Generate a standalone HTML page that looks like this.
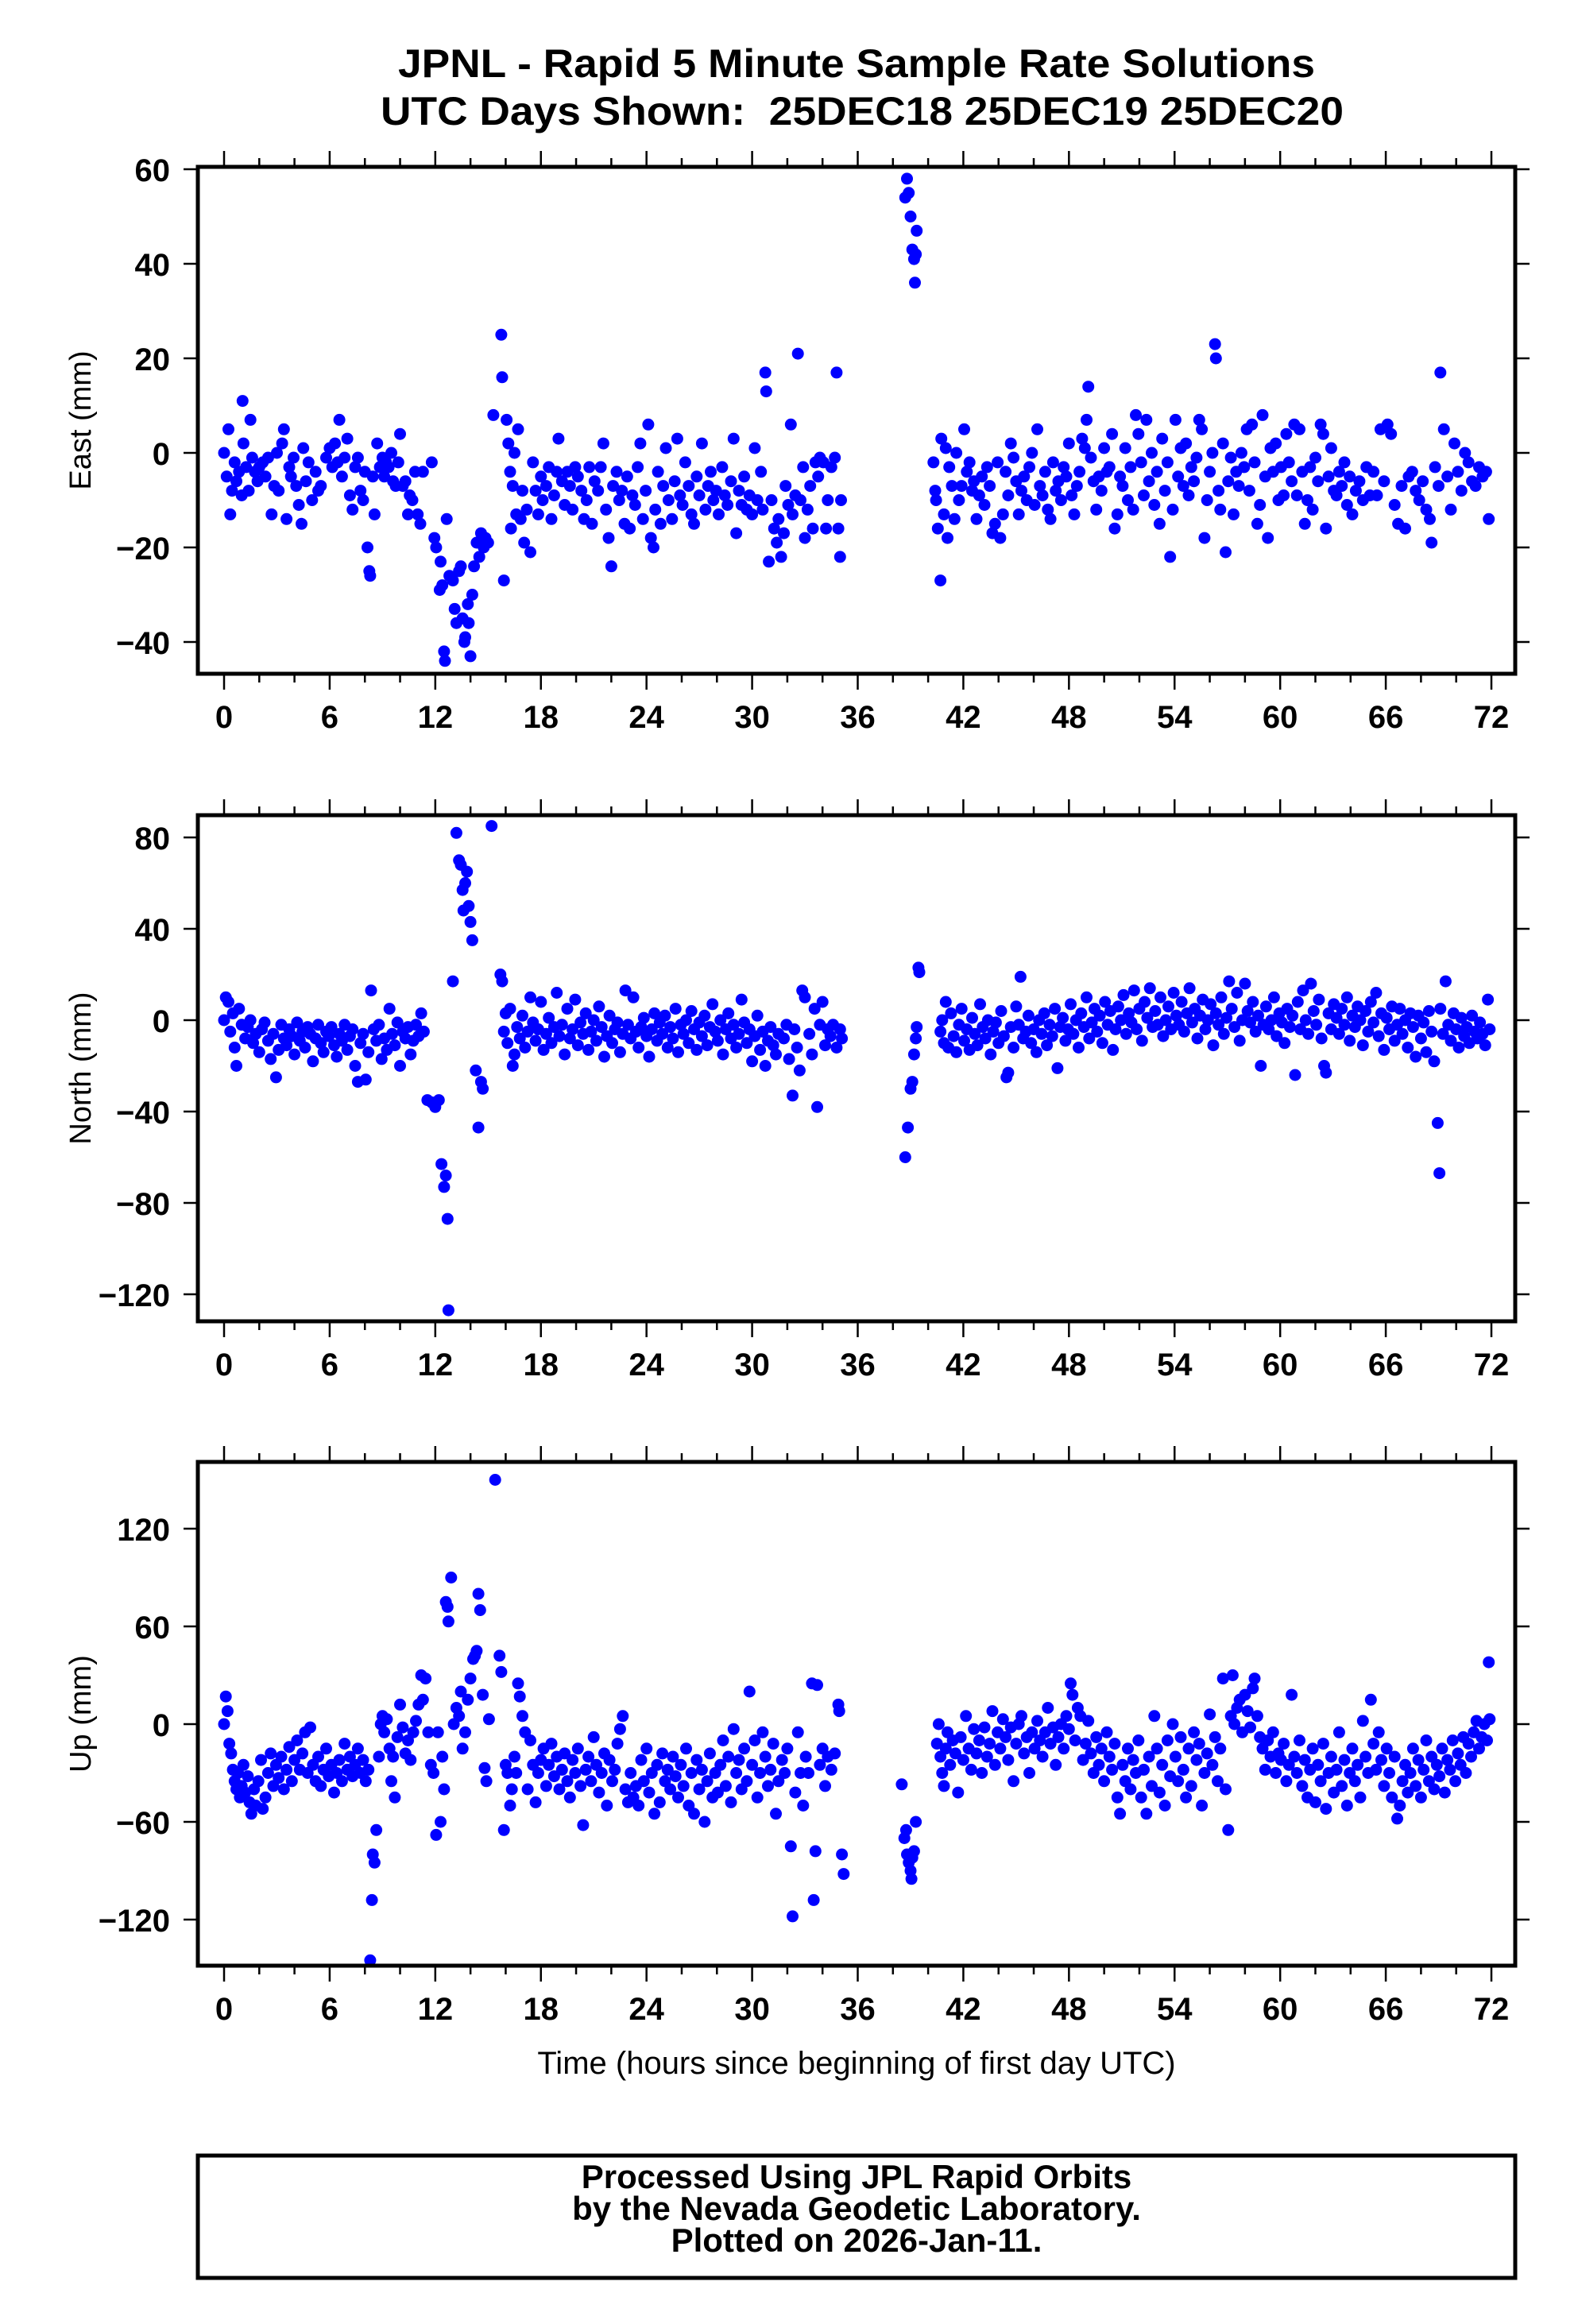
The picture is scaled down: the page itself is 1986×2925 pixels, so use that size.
<!DOCTYPE html>
<html><head><meta charset="utf-8"><style>
html,body{margin:0;padding:0;background:#fff;}
svg{display:block;font-family:"Liberation Sans",Arial,sans-serif;}
</style></head><body>
<svg id="chart" xmlns="http://www.w3.org/2000/svg" width="1986" height="2925" viewBox="0 0 1986 2925">
<rect x="0" y="0" width="1986" height="2925" fill="#fff"/>
<text x="1078" y="97" text-anchor="middle" font-size="50" font-weight="bold" textLength="1154" lengthAdjust="spacingAndGlyphs">JPNL - Rapid 5 Minute Sample Rate Solutions</text>
<text x="1085" y="157" text-anchor="middle" font-size="50" font-weight="bold" textLength="1212" lengthAdjust="spacingAndGlyphs">UTC Days Shown: &#160;25DEC18 25DEC19 25DEC20</text>
<g id="panels"></g>
<text x="1078" y="2610" text-anchor="middle" font-size="40">Time (hours since beginning of first day UTC)</text>
<rect x="249" y="2713" width="1658" height="154" fill="none" stroke="#000" stroke-width="5"/>
<text x="1078" y="2754" text-anchor="middle" font-size="42" font-weight="bold">Processed Using JPL Rapid Orbits</text>
<text x="1078" y="2794" text-anchor="middle" font-size="42" font-weight="bold">by the Nevada Geodetic Laboratory.</text>
<text x="1078" y="2834" text-anchor="middle" font-size="42" font-weight="bold">Plotted on 2026-Jan-11.</text>
</svg>
<script>
const xTicks = [0,6,12,18,24,30,36,42,48,54,60,66,72];
const xMinorTicks = [2,4,8,10,14,16,20,22,26,28,32,34,38,40,44,46,50,52,56,58,62,64,68,70];
const eastTicks = [-40,-20,0,20,40,60];
const northTicks = [-120,-80,-40,0,40,80];
const upTicks = [-120,-60,0,60,120];

const eastData = [[0,0],[0.15,-5],[0.25,5],[0.35,-13],[0.45,-8],[0.6,-2],[0.7,-6],[0.85,-4],[1.0,-9],[1.05,11],[1.1,2],[1.25,-3],[1.4,-8],[1.5,7],[1.6,-1],[1.75,-4],[1.9,-6],[2.0,-3],[2.2,-2],[2.35,-5],[2.5,-1],[2.7,-13],[2.85,-7],[3.0,0],[3.1,-8],[3.3,2],[3.4,5],[3.55,-14],[3.7,-3],[3.8,-5],[3.95,-1],[4.1,-7],[4.25,-11],[4.4,-15],[4.5,1],[4.65,-6],[4.8,-2],[5.0,-10],[5.2,-4],[5.35,-8],[5.5,-7],[5.8,-1],[6.0,1],[6.15,-3],[6.3,2],[6.45,-2],[6.55,7],[6.7,-5],[6.85,-1],[7.0,3],[7.15,-9],[7.3,-12],[7.45,-3],[7.6,-1],[7.75,-8],[7.9,-10],[8.0,-4],[8.15,-20],[8.25,-25],[8.3,-26],[8.45,-5],[8.55,-13],[8.7,2],[8.85,-3],[9.0,-1],[9.1,-5],[9.2,-2],[9.35,-3],[9.5,0],[9.6,-6],[9.75,-7],[9.9,-2],[10.0,4],[10.15,-7],[10.3,-6],[10.45,-13],[10.55,-9],[10.7,-10],[10.85,-4],[11.0,-13],[11.15,-15],[11.3,-4],[11.8,-2],[11.95,-18],[12.05,-20],[12.25,-29],[12.3,-23],[12.4,-28],[12.5,-42],[12.55,-44],[12.65,-14],[12.8,-26],[13.0,-27],[13.1,-33],[13.2,-36],[13.35,-25],[13.45,-24],[13.55,-35],[13.65,-40],[13.7,-39],[13.85,-32],[13.9,-36],[14.0,-43],[14.1,-30],[14.2,-24],[14.35,-19],[14.5,-22],[14.6,-17],[14.75,-20],[14.85,-18],[15.0,-19],[15.3,8],[15.75,25],[15.8,16],[15.9,-27],[16.05,7],[16.15,2],[16.25,-4],[16.3,-16],[16.4,-7],[16.5,0],[16.6,-13],[16.7,5],[16.85,-14],[16.95,-8],[17.05,-19],[17.2,-12],[17.4,-21],[17.55,-2],[17.7,-8],[17.85,-13],[18.0,-5],[18.1,-10],[18.3,-7],[18.45,-3],[18.6,-14],[18.75,-9],[18.9,-4],[19.0,3],[19.2,-6],[19.35,-11],[19.5,-4],[19.65,-7],[19.8,-12],[19.95,-3],[20.1,-5],[20.3,-8],[20.45,-14],[20.6,-10],[20.75,-3],[20.9,-15],[21.05,-6],[21.25,-8],[21.4,-3],[21.55,2],[21.7,-12],[21.85,-18],[22.0,-24],[22.1,-7],[22.3,-4],[22.45,-10],[22.6,-8],[22.75,-15],[22.9,-5],[23.05,-16],[23.2,-9],[23.35,-11],[23.5,-3],[23.65,2],[23.8,-14],[23.95,-8],[24.1,6],[24.25,-18],[24.4,-20],[24.5,-12],[24.65,-4],[24.8,-15],[24.95,-7],[25.1,1],[25.25,-10],[25.45,-14],[25.6,-6],[25.75,3],[25.9,-9],[26.05,-11],[26.2,-2],[26.4,-7],[26.55,-13],[26.7,-15],[26.85,-5],[27.0,-9],[27.15,2],[27.35,-12],[27.5,-7],[27.65,-4],[27.8,-10],[27.95,-8],[28.1,-13],[28.3,-3],[28.45,-9],[28.6,-11],[28.8,-6],[28.95,3],[29.1,-17],[29.25,-8],[29.4,-11],[29.55,-5],[29.7,-12],[29.85,-9],[30.0,-13],[30.15,1],[30.3,-10],[30.5,-4],[30.6,-12],[30.75,17],[30.8,13],[30.95,-23],[31.1,-10],[31.25,-16],[31.4,-19],[31.5,-14],[31.65,-22],[31.8,-17],[31.9,-7],[32.05,-11],[32.2,6],[32.3,-13],[32.45,-9],[32.6,21],[32.75,-10],[32.9,-3],[33.0,-18],[33.15,-12],[33.3,-7],[33.45,-16],[33.6,-2],[33.75,-5],[33.85,-1],[34.05,-2],[34.2,-16],[34.3,-10],[34.5,-3],[34.7,-1],[34.8,17],[34.9,-16],[35.0,-22],[35.05,-10],[38.7,54],[38.8,58],[38.9,55],[39.0,50],[39.1,43],[39.2,41],[39.25,36],[39.3,42],[39.35,47],[40.3,-2],[40.4,-8],[40.45,-10],[40.55,-16],[40.7,-27],[40.75,3],[40.9,-13],[41.0,1],[41.1,-18],[41.2,-3],[41.35,-7],[41.5,-14],[41.6,0],[41.75,-10],[41.9,-7],[42.05,5],[42.2,-4],[42.35,-2],[42.5,-8],[42.6,-6],[42.75,-14],[42.9,-9],[43.05,-5],[43.2,-11],[43.35,-3],[43.5,-7],[43.65,-17],[43.8,-15],[43.95,-2],[44.1,-18],[44.25,-13],[44.4,-4],[44.55,-9],[44.7,2],[44.85,-1],[45.0,-6],[45.15,-13],[45.3,-8],[45.45,-5],[45.6,-10],[45.75,-3],[45.9,0],[46.05,-11],[46.2,5],[46.35,-7],[46.5,-9],[46.65,-4],[46.8,-12],[46.95,-14],[47.1,-2],[47.25,-8],[47.4,-6],[47.55,-10],[47.7,-3],[47.85,-5],[48.0,2],[48.15,-9],[48.3,-13],[48.45,-7],[48.6,-4],[48.75,3],[48.9,1],[49.0,7],[49.1,14],[49.25,-1],[49.4,-6],[49.55,-12],[49.7,-5],[49.85,-8],[50.0,1],[50.15,-4],[50.3,-3],[50.45,4],[50.6,-16],[50.75,-13],[50.9,-5],[51.05,-7],[51.2,1],[51.35,-10],[51.5,-3],[51.65,-12],[51.8,8],[51.95,4],[52.1,-2],[52.25,-9],[52.4,7],[52.55,-6],[52.7,0],[52.85,-11],[53.0,-4],[53.15,-15],[53.3,3],[53.45,-8],[53.6,-2],[53.75,-22],[53.9,-12],[54.05,7],[54.2,-5],[54.35,1],[54.5,-7],[54.65,2],[54.8,-9],[54.95,-3],[55.1,-6],[55.25,-1],[55.4,7],[55.55,5],[55.7,-18],[55.85,-10],[56.0,-4],[56.15,0],[56.3,23],[56.35,20],[56.5,-8],[56.6,-12],[56.75,2],[56.9,-21],[57.05,-6],[57.2,-1],[57.35,-13],[57.5,-4],[57.65,-7],[57.8,0],[57.95,-3],[58.1,5],[58.25,-8],[58.4,6],[58.55,-2],[58.7,-15],[58.85,-11],[59.0,8],[59.15,-5],[59.3,-18],[59.45,1],[59.6,-4],[59.75,2],[59.9,-10],[60.05,-3],[60.2,-9],[60.35,4],[60.5,-2],[60.65,-6],[60.8,6],[60.95,-9],[61.1,5],[61.25,-4],[61.4,-15],[61.55,-10],[61.7,-3],[61.85,-12],[62.0,-1],[62.15,-6],[62.3,6],[62.45,4],[62.6,-16],[62.75,-5],[62.9,1],[63.05,-8],[63.2,-9],[63.35,-4],[63.5,-7],[63.65,-2],[63.8,-11],[63.95,-5],[64.1,-13],[64.3,-8],[64.5,-6],[64.7,-10],[64.9,-3],[65.1,-9],[65.3,-4],[65.5,-9],[65.7,5],[65.9,-6],[66.1,6],[66.3,4],[66.5,-11],[66.7,-15],[66.9,-7],[67.1,-16],[67.3,-5],[67.5,-4],[67.7,-8],[67.9,-10],[68.1,-6],[68.3,-12],[68.5,-14],[68.6,-19],[68.8,-3],[69.0,-7],[69.1,17],[69.3,5],[69.5,-5],[69.7,-12],[69.9,2],[70.1,-4],[70.3,-8],[70.5,0],[70.7,-2],[70.9,-6],[71.1,-7],[71.3,-3],[71.5,-5],[71.7,-4],[71.85,-14]];

const northData = [[0,0],[0.1,10],[0.25,8],[0.35,-5],[0.5,3],[0.6,-12],[0.7,-20],[0.85,5],[1.0,-2],[1.2,-8],[1.35,-3],[1.5,0],[1.65,-10],[1.8,-6],[2.0,-14],[2.15,-4],[2.3,-1],[2.5,-9],[2.65,-17],[2.8,-6],[2.95,-25],[3.1,-13],[3.25,-2],[3.4,-8],[3.55,-11],[3.7,-4],[3.85,-7],[4.0,-15],[4.15,-1],[4.3,-9],[4.45,-5],[4.6,-12],[4.75,-3],[4.9,-6],[5.05,-18],[5.2,-8],[5.35,-2],[5.5,-10],[5.65,-14],[5.8,-5],[5.95,-7],[6.1,-3],[6.25,-11],[6.4,-16],[6.55,-6],[6.7,-9],[6.85,-2],[7.0,-13],[7.15,-7],[7.3,-4],[7.45,-20],[7.6,-27],[7.75,-10],[7.9,-6],[8.05,-26],[8.2,-14],[8.35,13],[8.5,-4],[8.65,-9],[8.8,-2],[8.95,-17],[9.1,-8],[9.25,-13],[9.4,5],[9.55,-6],[9.7,-11],[9.85,-1],[10.0,-20],[10.15,-5],[10.3,-8],[10.45,-3],[10.6,-15],[10.75,-9],[10.9,-2],[11.05,-7],[11.2,3],[11.35,-5],[11.55,-35],[11.8,-36],[12.0,-38],[12.2,-35],[12.35,-63],[12.5,-73],[12.6,-68],[12.7,-87],[12.75,-127],[13.0,17],[13.2,82],[13.35,70],[13.45,68],[13.55,57],[13.6,48],[13.7,60],[13.8,65],[13.9,50],[14.0,43],[14.1,35],[14.3,-22],[14.45,-47],[14.6,-27],[14.7,-30],[15.2,85],[15.7,20],[15.8,17],[15.9,-5],[16.0,3],[16.1,-10],[16.25,5],[16.4,-20],[16.5,-15],[16.65,-3],[16.8,-8],[16.95,2],[17.1,-12],[17.25,-5],[17.4,10],[17.55,-1],[17.7,-9],[17.85,-4],[18.0,8],[18.15,-13],[18.3,-6],[18.45,1],[18.6,-10],[18.75,-3],[18.9,12],[19.05,-7],[19.2,-2],[19.35,-15],[19.5,5],[19.65,-8],[19.8,-4],[19.95,9],[20.1,-11],[20.25,-1],[20.4,-6],[20.55,3],[20.7,-13],[20.85,-5],[21.0,0],[21.15,-9],[21.3,6],[21.45,-3],[21.6,-16],[21.75,-7],[21.9,2],[22.05,-10],[22.2,-4],[22.35,-1],[22.5,-14],[22.65,-6],[22.8,13],[22.95,-2],[23.1,-8],[23.25,10],[23.4,-5],[23.55,-12],[23.7,-3],[23.85,1],[24.0,-7],[24.15,-16],[24.3,-4],[24.45,3],[24.6,-9],[24.75,-1],[24.9,-6],[25.05,2],[25.2,-12],[25.35,-3],[25.5,-8],[25.65,5],[25.8,-14],[25.95,-2],[26.1,-6],[26.25,0],[26.4,-10],[26.55,4],[26.7,-4],[26.85,-13],[27.0,-1],[27.15,-7],[27.3,2],[27.45,-11],[27.6,-3],[27.75,7],[27.9,-5],[28.05,-9],[28.2,0],[28.35,-15],[28.5,-4],[28.65,3],[28.8,-8],[28.95,-2],[29.1,-12],[29.25,-6],[29.4,9],[29.55,-1],[29.7,-10],[29.85,-4],[30.0,-18],[30.15,-7],[30.3,2],[30.45,-13],[30.6,-5],[30.75,-20],[30.9,-9],[31.05,-3],[31.2,-11],[31.35,-15],[31.5,-6],[31.8,-8],[31.95,-2],[32.1,-17],[32.3,-33],[32.4,-4],[32.55,-12],[32.7,-22],[32.85,13],[33.0,10],[33.25,-6],[33.4,-15],[33.55,5],[33.7,-38],[33.85,-2],[34.0,8],[34.15,-11],[34.3,-4],[34.45,-7],[34.6,-2],[34.8,-12],[35.0,-4],[35.1,-8],[38.7,-60],[38.85,-47],[39.0,-30],[39.1,-27],[39.2,-15],[39.3,-8],[39.35,-3],[39.45,23],[39.5,21],[40.7,-5],[40.8,0],[40.9,-10],[41.0,8],[41.15,-12],[41.3,3],[41.45,-7],[41.6,-14],[41.75,-2],[41.9,5],[42.05,-9],[42.2,-4],[42.35,-13],[42.5,1],[42.65,-6],[42.8,-11],[42.95,7],[43.1,-3],[43.25,-8],[43.4,0],[43.55,-15],[43.7,-5],[43.85,-1],[44.0,-10],[44.15,4],[44.3,-7],[44.45,-25],[44.55,-23],[44.7,-3],[44.85,-12],[45.0,6],[45.15,-2],[45.25,19],[45.4,-8],[45.55,-5],[45.7,2],[45.85,-10],[46.0,-4],[46.15,-14],[46.3,0],[46.45,-6],[46.6,3],[46.75,-11],[46.9,-2],[47.05,-7],[47.2,5],[47.35,-21],[47.5,-3],[47.65,1],[47.8,-9],[47.95,-4],[48.1,7],[48.25,-6],[48.4,0],[48.55,-12],[48.7,3],[48.85,-3],[49.0,10],[49.15,-8],[49.3,-1],[49.45,5],[49.6,-5],[49.75,2],[49.9,-10],[50.05,8],[50.2,-2],[50.35,4],[50.5,-13],[50.65,-4],[50.8,6],[50.95,0],[51.1,11],[51.25,-6],[51.4,3],[51.55,-1],[51.7,13],[51.85,-4],[52.0,5],[52.15,-9],[52.3,8],[52.45,1],[52.6,14],[52.75,-3],[52.9,4],[53.05,-2],[53.2,10],[53.35,-7],[53.5,0],[53.65,6],[53.8,-4],[53.95,12],[54.1,2],[54.25,-2],[54.4,8],[54.55,-5],[54.7,3],[54.85,14],[55.0,-1],[55.15,5],[55.3,-8],[55.45,2],[55.6,9],[55.75,-4],[55.9,0],[56.05,7],[56.2,-11],[56.35,3],[56.5,-2],[56.65,10],[56.8,-6],[56.95,1],[57.1,17],[57.25,5],[57.4,-3],[57.55,12],[57.7,-9],[57.85,0],[58.0,16],[58.15,4],[58.3,-1],[58.45,8],[58.6,-5],[58.75,2],[58.9,-20],[59.05,-2],[59.2,6],[59.35,-4],[59.5,0],[59.65,10],[59.8,-7],[59.95,3],[60.1,-1],[60.25,-10],[60.4,5],[60.55,-3],[60.7,2],[60.85,-24],[61.0,8],[61.15,-4],[61.3,13],[61.45,0],[61.6,-6],[61.75,16],[61.9,4],[62.05,-2],[62.2,9],[62.35,-8],[62.5,-20],[62.6,-23],[62.75,3],[62.9,-4],[63.05,7],[63.2,1],[63.35,-6],[63.5,5],[63.65,-2],[63.8,10],[63.95,-9],[64.1,2],[64.25,-3],[64.4,6],[64.55,0],[64.7,-11],[64.85,4],[65.0,-5],[65.15,8],[65.3,-1],[65.45,12],[65.6,-7],[65.75,3],[65.9,-13],[66.05,1],[66.2,-4],[66.35,6],[66.5,-9],[66.65,-2],[66.8,5],[66.95,-6],[67.1,0],[67.25,-12],[67.4,3],[67.55,-3],[67.7,-16],[67.85,2],[68.0,-8],[68.15,-1],[68.3,-14],[68.45,4],[68.6,-5],[68.75,-18],[68.95,-45],[69.05,-67],[69.1,5],[69.25,-6],[69.4,17],[69.55,-2],[69.7,-9],[69.85,3],[70.0,-4],[70.15,-12],[70.3,1],[70.45,-7],[70.6,-3],[70.75,-10],[70.9,2],[71.05,-5],[71.2,-8],[71.35,-1],[71.5,-6],[71.65,-11],[71.8,9],[71.9,-4]];

const upData = [[0,0],[0.1,17],[0.2,8],[0.3,-12],[0.4,-18],[0.5,-28],[0.6,-35],[0.7,-40],[0.8,-30],[0.9,-45],[1.0,-38],[1.1,-25],[1.2,-42],[1.35,-32],[1.45,-48],[1.55,-55],[1.7,-40],[1.8,-50],[1.95,-35],[2.1,-22],[2.2,-52],[2.35,-45],[2.5,-30],[2.65,-18],[2.8,-38],[2.95,-25],[3.1,-33],[3.25,-20],[3.4,-40],[3.55,-28],[3.7,-14],[3.85,-35],[4.0,-22],[4.15,-10],[4.3,-28],[4.45,-18],[4.6,-5],[4.75,-30],[4.9,-2],[5.05,-25],[5.2,-35],[5.35,-20],[5.5,-38],[5.65,-28],[5.8,-15],[5.95,-32],[6.1,-25],[6.25,-42],[6.4,-30],[6.55,-22],[6.7,-35],[6.85,-12],[7.0,-28],[7.15,-20],[7.3,-32],[7.45,-25],[7.6,-15],[7.75,-30],[7.9,-22],[8.05,-35],[8.2,-28],[8.3,-145],[8.4,-108],[8.45,-80],[8.55,-85],[8.65,-65],[8.8,-20],[8.9,0],[9.0,5],[9.1,-5],[9.25,3],[9.4,-15],[9.5,-35],[9.6,-20],[9.7,-45],[9.85,-8],[10.0,12],[10.15,-2],[10.3,-18],[10.45,-10],[10.6,-22],[10.75,-5],[10.9,2],[11.05,12],[11.2,30],[11.3,15],[11.45,28],[11.6,-5],[11.75,-25],[11.9,-30],[12.05,-68],[12.15,-5],[12.3,-60],[12.4,-20],[12.5,-40],[12.6,75],[12.7,72],[12.75,63],[12.9,90],[13.05,0],[13.2,10],[13.35,5],[13.45,20],[13.55,-15],[13.7,-5],[13.85,15],[14.0,28],[14.15,40],[14.25,42],[14.35,45],[14.45,80],[14.55,70],[14.7,18],[14.8,-27],[14.9,-35],[15.05,3],[15.4,150],[15.65,42],[15.75,32],[15.9,-65],[16.0,-25],[16.1,-30],[16.25,-50],[16.35,-40],[16.5,-20],[16.6,-30],[16.7,25],[16.8,17],[16.95,5],[17.1,-5],[17.25,-40],[17.4,-10],[17.55,-25],[17.7,-48],[17.85,-30],[18.0,-22],[18.15,-15],[18.3,-38],[18.45,-25],[18.6,-12],[18.75,-32],[18.9,-20],[19.05,-40],[19.2,-28],[19.35,-18],[19.5,-35],[19.65,-45],[19.8,-22],[19.95,-30],[20.1,-15],[20.25,-38],[20.4,-62],[20.55,-28],[20.7,-20],[20.85,-35],[21.0,-8],[21.15,-25],[21.3,-42],[21.45,-30],[21.6,-18],[21.75,-50],[21.9,-22],[22.05,-35],[22.2,-28],[22.35,-12],[22.5,-3],[22.65,5],[22.8,-40],[22.95,-48],[23.1,-30],[23.25,-45],[23.4,-38],[23.55,-50],[23.7,-22],[23.85,-35],[24.0,-15],[24.15,-42],[24.3,-30],[24.45,-55],[24.6,-25],[24.75,-48],[24.9,-18],[25.05,-35],[25.2,-28],[25.35,-40],[25.5,-20],[25.65,-32],[25.8,-45],[25.95,-25],[26.1,-38],[26.25,-15],[26.4,-50],[26.55,-30],[26.7,-55],[26.85,-22],[27.0,-40],[27.15,-28],[27.3,-60],[27.45,-35],[27.6,-18],[27.75,-45],[27.9,-30],[28.05,-42],[28.2,-25],[28.35,-10],[28.5,-38],[28.65,-20],[28.8,-48],[28.95,-3],[29.1,-30],[29.25,-22],[29.4,-40],[29.55,-15],[29.7,-35],[29.85,20],[30.0,-25],[30.15,-10],[30.3,-45],[30.45,-30],[30.6,-5],[30.75,-20],[30.9,-38],[31.05,-28],[31.2,-12],[31.35,-55],[31.5,-35],[31.7,-22],[31.85,-30],[32.0,-15],[32.2,-75],[32.3,-118],[32.45,-42],[32.6,-5],[32.75,-30],[32.9,-50],[33.05,-20],[33.2,-30],[33.4,25],[33.5,-108],[33.6,-78],[33.7,24],[33.85,-25],[34.0,-15],[34.15,-38],[34.3,-20],[34.5,-28],[34.7,-18],[34.9,12],[34.95,8],[35.1,-80],[35.2,-92],[38.5,-37],[38.65,-70],[38.75,-65],[38.8,-80],[38.9,-85],[39.0,-90],[39.05,-95],[39.1,-82],[39.2,-78],[39.3,-60],[40.5,-12],[40.6,0],[40.7,-20],[40.8,-30],[40.9,-38],[41.0,-15],[41.1,-5],[41.25,-25],[41.4,-10],[41.55,-18],[41.7,-42],[41.85,-8],[42.0,-22],[42.15,5],[42.3,-15],[42.45,-28],[42.6,-3],[42.75,-18],[42.9,-10],[43.05,-30],[43.2,-2],[43.35,-20],[43.5,-12],[43.65,8],[43.8,-25],[43.95,-5],[44.1,-15],[44.25,3],[44.4,-8],[44.55,-22],[44.7,-2],[44.85,-35],[45.0,-12],[45.15,0],[45.3,5],[45.45,-18],[45.6,-8],[45.75,-30],[45.9,-5],[46.05,-15],[46.2,2],[46.35,-10],[46.5,-20],[46.65,-5],[46.8,10],[46.95,-12],[47.1,-2],[47.25,-25],[47.4,-8],[47.55,0],[47.7,-15],[47.85,5],[48.0,-3],[48.1,25],[48.2,18],[48.35,-10],[48.5,10],[48.65,5],[48.8,-22],[48.95,-12],[49.1,2],[49.25,-18],[49.4,-30],[49.55,-8],[49.7,-25],[49.85,-15],[50.0,-35],[50.15,-5],[50.3,-20],[50.45,-28],[50.6,-12],[50.75,-45],[50.9,-55],[51.05,-25],[51.2,-35],[51.35,-15],[51.5,-40],[51.65,-22],[51.8,-30],[51.95,-10],[52.1,-45],[52.25,-28],[52.4,-55],[52.55,-20],[52.7,-38],[52.85,5],[53.0,-15],[53.15,-42],[53.3,-25],[53.45,-50],[53.6,-10],[53.75,-32],[53.9,0],[54.05,-20],[54.2,-35],[54.35,-8],[54.5,-28],[54.65,-45],[54.8,-15],[54.95,-38],[55.1,-5],[55.25,-22],[55.4,-12],[55.55,-50],[55.7,-30],[55.85,-18],[56.0,6],[56.15,-25],[56.3,-8],[56.45,-35],[56.6,-15],[56.75,28],[56.9,-40],[57.05,-65],[57.2,5],[57.3,30],[57.4,0],[57.55,10],[57.7,15],[57.85,-5],[58.0,18],[58.15,8],[58.3,-2],[58.45,22],[58.55,28],[58.7,5],[58.85,-8],[59.0,-15],[59.15,-28],[59.3,-10],[59.45,-20],[59.6,-5],[59.75,-30],[59.9,-18],[60.05,-22],[60.2,-12],[60.35,-35],[60.5,-25],[60.65,18],[60.8,-20],[60.95,-30],[61.1,-10],[61.25,-38],[61.4,-22],[61.55,-45],[61.7,-28],[61.85,-15],[62.0,-48],[62.15,-25],[62.3,-35],[62.45,-12],[62.6,-52],[62.75,-30],[62.9,-20],[63.05,-42],[63.2,-28],[63.35,-5],[63.5,-38],[63.65,-22],[63.8,-50],[63.95,-30],[64.1,-15],[64.25,-35],[64.4,-25],[64.55,-45],[64.7,2],[64.85,-20],[65.0,-30],[65.15,15],[65.3,-12],[65.45,-28],[65.6,-5],[65.75,-22],[65.9,-38],[66.05,-15],[66.2,-30],[66.35,-45],[66.5,-20],[66.65,-58],[66.8,-50],[66.95,-35],[67.1,-25],[67.25,-42],[67.4,-30],[67.55,-15],[67.7,-38],[67.85,-22],[68.0,-45],[68.15,-28],[68.3,-10],[68.45,-35],[68.6,-20],[68.75,-40],[68.9,-25],[69.05,-32],[69.2,-15],[69.35,-42],[69.5,-22],[69.65,-28],[69.8,-10],[69.95,-35],[70.1,-18],[70.25,-25],[70.4,-8],[70.55,-30],[70.7,-12],[70.85,-20],[71.0,-5],[71.15,2],[71.3,-15],[71.45,-8],[71.6,0],[71.75,-10],[71.85,38],[71.9,3]];

const NS = "http://www.w3.org/2000/svg";
const X0 = 249, X1 = 1907;
function xScale(t){ return 282 + t * (1877 - 282) / 72; }
function mk(tag, attrs, parent){
  const el = document.createElementNS(NS, tag);
  for (const k in attrs) el.setAttribute(k, attrs[k]);
  parent.appendChild(el);
  return el;
}
const panelsG = document.getElementById('panels');

function drawPanel(key, title, top, bottom, ref0, refV, refPx, ticks, data){
  const yScale = v => ref0 - v * refPx / refV;
  const g = mk('g', {}, panelsG);
  
  
  const pts = mk('g', {fill:'#0000ff'}, g);
  
  
  data.forEach(d => {
    const c = mk('circle', {cx: xScale(d[0]).toFixed(1), cy: yScale(d[1]).toFixed(1), r: 7.5}, pts);
    
    
  });
  const fr = mk('rect', {x:X0, y:top, width:X1-X0, height:bottom-top, fill:'none', stroke:'#000', 'stroke-width':5}, g);
  
  
  const xt = mk('g', {stroke:'#000', 'stroke-width':2.5}, g);
  
  
  xTicks.forEach(t => {
    const x = xScale(t);
    mk('line', {x1:x, x2:x, y1:bottom+2, y2:bottom+20}, xt);
    mk('line', {x1:x, x2:x, y1:top-2, y2:top-20}, xt);
    const lb = mk('text', {x:x, y:bottom+68, 'text-anchor':'middle', 'font-size':40, 'font-weight':'bold', stroke:'none', fill:'#000'}, xt);
    lb.textContent = t;
    
    
  });
  xMinorTicks.forEach(t => {
    const x = xScale(t);
    mk('line', {x1:x, x2:x, y1:bottom+2, y2:bottom+11}, xt);
    mk('line', {x1:x, x2:x, y1:top-2, y2:top-11}, xt);
  });
  const yt = mk('g', {stroke:'#000', 'stroke-width':2.5}, g);
  
  
  ticks.forEach(v => {
    const y = yScale(v);
    mk('line', {x1:X0-2, x2:X0-18, y1:y, y2:y}, yt);
    mk('line', {x1:X1+2, x2:X1+18, y1:y, y2:y}, yt);
    const lb = mk('text', {x:214, y:y+15, 'text-anchor':'end', 'font-size':40, 'font-weight':'bold', stroke:'none', fill:'#000'}, yt);
    lb.textContent = v < 0 ? '\u2212' + Math.abs(v) : String(v);
    
    
  });
  const cy = (top + bottom) / 2;
  const yl = mk('text', {x:101, y:cy, transform:'rotate(-90 101 ' + cy + ')', 'text-anchor':'middle', 'font-size':38, fill:'#000', dy:13}, g);
  yl.textContent = title;
  
  
}

drawPanel('east', 'East (mm)', 210, 848, 570, 20, 119, eastTicks, eastData);
drawPanel('north', 'North (mm)', 1026, 1663, 1284, 40, 115, northTicks, northData);
drawPanel('up', 'Up (mm)', 1840, 2474, 2170, 60, 123, upTicks, upData);
</script>
</body></html>
